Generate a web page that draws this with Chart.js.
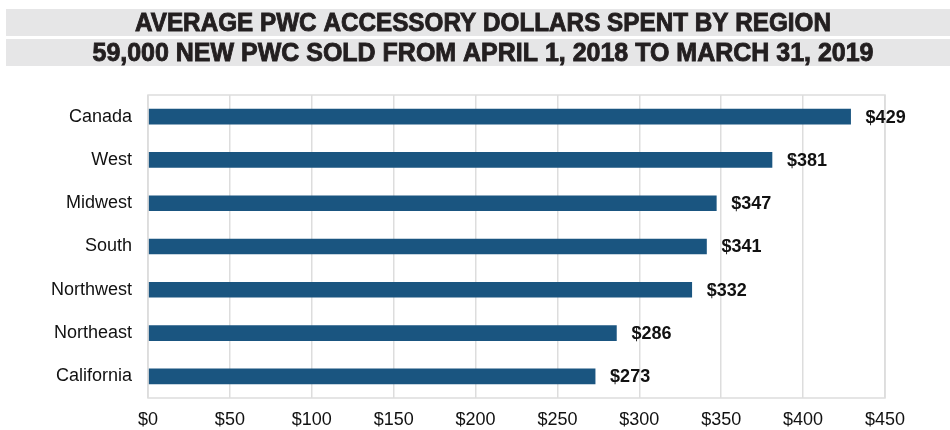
<!DOCTYPE html>
<html>
<head>
<meta charset="utf-8">
<script src="https://cdn.jsdelivr.net/npm/chart.js@4/dist/chart.umd.min.js"></script>
<style>
  html, body { margin: 0; padding: 0; background: #fff; }
  #wrap { width: 950px; height: 430px; position: relative; }
</style>
</head>
<body>
<div id="wrap"><canvas id="myChart" width="950" height="430"></canvas></div>
<script>
const regions = ["Canada", "West", "Midwest", "South", "Northwest", "Northeast", "California"];
const avgSpent = [429, 381, 347, 341, 332, 286, 273];
const xTicks = [0, 50, 100, 150, 200, 250, 300, 350, 400, 450];
const titleLines = [
  "AVERAGE PWC ACCESSORY DOLLARS SPENT BY REGION",
  "59,000 NEW PWC SOLD FROM APRIL 1, 2018 TO MARCH 31, 2019",
];

const barColor = "#1a5580";
const gridColor = "#dddddd";

// two grey bands with condensed bold heading text
const headerPlugin = {
  id: "header",
  beforeDraw(chart) {
    const ctx = chart.ctx;
    const bands = [
      { top: 9, h: 27, width: 696 },
      { top: 39, h: 27, width: 781 },
    ];
    ctx.save();
    bands.forEach((b, i) => {
      ctx.fillStyle = "#e6e6e7";
      ctx.fillRect(6, b.top, 944, b.h);
      ctx.font = "bold 26px 'Liberation Sans Narrow', 'Liberation Sans', Arial, sans-serif";
      const w = ctx.measureText(titleLines[i]).width;
      const cx = 483;
      const cy = b.top + b.h / 2 + 1;
      ctx.save();
      ctx.translate(cx, cy);
      ctx.scale(b.width / w, 1);
      ctx.fillStyle = "#231f20";
      ctx.strokeStyle = "#231f20";
      ctx.lineWidth = 0.9;
      ctx.textAlign = "center";
      ctx.textBaseline = "middle";
      ctx.fillText(titleLines[i], 0, 0);
      ctx.strokeText(titleLines[i], 0, 0);
      ctx.restore();
    });
    ctx.restore();
  },
};

// frame around the plot area plus the value labels
const framePlugin = {
  id: "frame",
  afterDatasetsDraw(chart) {
    const ctx = chart.ctx;
    const a = chart.chartArea;
    ctx.save();
    ctx.strokeStyle = gridColor;
    ctx.lineWidth = 1.5;
    ctx.strokeRect(a.left, a.top, a.right - a.left, a.bottom - a.top);

    const meta = chart.getDatasetMeta(0);
    ctx.fillStyle = "#111";
    ctx.font = "bold 18px 'Liberation Sans', Arial, sans-serif";
    ctx.textAlign = "left";
    ctx.textBaseline = "middle";
    meta.data.forEach((bar, i) => {
      ctx.fillText("$" + avgSpent[i], bar.x + 15, bar.y + 1);
    });
    ctx.restore();
  },
};

new Chart("myChart", {
  type: "bar",
  data: {
    labels: regions,
    datasets: [
      {
        data: avgSpent,
        backgroundColor: barColor,
        borderWidth: 0,
        barThickness: 15,
      },
    ],
  },
  options: {
    indexAxis: "y",
    responsive: false,
    animation: false,
    events: [],
    layout: { padding: { top: 95, right: 65, left: 0, bottom: 0 } },
    plugins: {
      legend: { display: false },
      tooltip: { enabled: false },
    },
    scales: {
      x: {
        min: 0,
        max: 450,
        afterBuildTicks(scale) {
          scale.ticks = xTicks.map((v) => ({ value: v }));
        },
        afterFit(scale) {
          scale.height = 32;
        },
        grid: { color: gridColor, lineWidth: 1.5, drawTicks: false },
        border: { display: false },
        ticks: {
          padding: 11,
          color: "#111",
          font: { family: "'Liberation Sans', Arial, sans-serif", size: 18 },
          callback: (v) => "$" + v,
        },
      },
      y: {
        afterFit(scale) {
          scale.width = 148;
        },
        grid: { display: false, drawTicks: false },
        border: { display: false },
        ticks: {
          padding: 16,
          color: "#111",
          font: { family: "'Liberation Sans', Arial, sans-serif", size: 18 },
        },
      },
    },
  },
  plugins: [headerPlugin, framePlugin],
});
</script>
</body>
</html>
